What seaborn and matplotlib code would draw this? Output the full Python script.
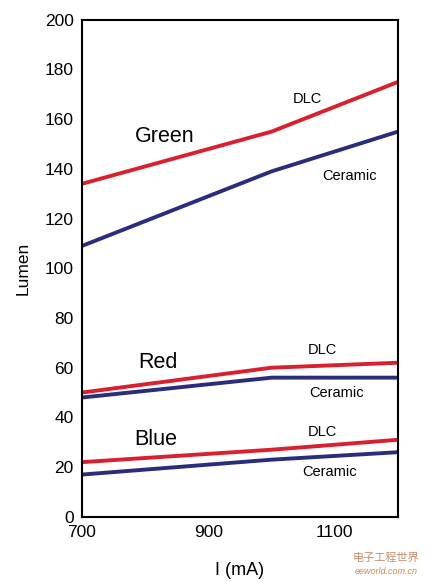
import pandas as pd
import matplotlib.pyplot as plt
import seaborn as sns

# Data
current = [700, 1000, 1200]
green_dlc = [134, 155, 175]
green_ceramic = [109, 139, 155]
red_dlc = [50, 60, 62]
red_ceramic = [48, 56, 56]
blue_dlc = [22, 27, 31]
blue_ceramic = [17, 23, 26]

series = {
    ("Green", "DLC"): green_dlc,
    ("Green", "Ceramic"): green_ceramic,
    ("Red", "DLC"): red_dlc,
    ("Red", "Ceramic"): red_ceramic,
    ("Blue", "DLC"): blue_dlc,
    ("Blue", "Ceramic"): blue_ceramic,
}
rows = []
for (led, sub), vals in series.items():
    for x, v in zip(current, vals):
        rows.append({"I": x, "Lumen": v, "led": led, "substrate": sub})
df = pd.DataFrame(rows)

sns.set_style("white")
plt.rcParams['font.family'] = ['Liberation Sans', 'DejaVu Sans']
plt.rcParams['text.color'] = 'black'

fig = plt.figure(figsize=(4.27, 5.82), dpi=100)
ax = fig.add_axes([0.192, 0.112, 0.740, 0.854])

colors = {"DLC": "#d9202f", "Ceramic": "#2a2c7c"}
for (led, sub), grp in df.groupby(["led", "substrate"]):
    sns.lineplot(data=grp, x="I", y="Lumen", color=colors[sub], lw=2.8, ax=ax,
                 legend=False)

ax.set_xlim(700, 1200)
ax.set_ylim(0, 200)
ax.set_xticks([700, 900, 1100])
ax.set_yticks(range(0, 201, 20))
ax.tick_params(direction='in', length=5, width=1.5, labelsize=12.5, pad=6,
               colors='black')
for s in ax.spines.values():
    s.set_linewidth(1.5)
    s.set_color('black')
ax.set_xlabel("I (mA)", fontsize=13, labelpad=16, color='black')
ax.set_ylabel("Lumen", fontsize=12.5, labelpad=10, color='black')

# group labels
ax.text(831, 153, "Green", fontsize=15.5, ha='center', va='center', color='black')
ax.text(820, 62, "Red", fontsize=15.5, ha='center', va='center', color='black')
ax.text(817, 31, "Blue", fontsize=15.5, ha='center', va='center', color='black')
# substrate labels
for x, y, t in [(1056, 168, "DLC"), (1124, 137, "Ceramic"),
                (1080, 67, "DLC"), (1103, 50, "Ceramic"),
                (1080, 34, "DLC"), (1092, 18, "Ceramic")]:
    ax.text(x, y, t, fontsize=10.5, ha='center', va='center', color='black')

# watermark
fig.text(0.905, 0.042, "电子工程世界", fontsize=8, color='#c98a6a',
         ha='center', va='center', family=['Noto Sans CJK SC', 'DejaVu Sans'])
fig.text(0.905, 0.018, "eeworld.com.cn", fontsize=6.5, color='#d08a40',
         ha='center', va='center', style='italic')

fig.savefig("out.png", dpi=100)
